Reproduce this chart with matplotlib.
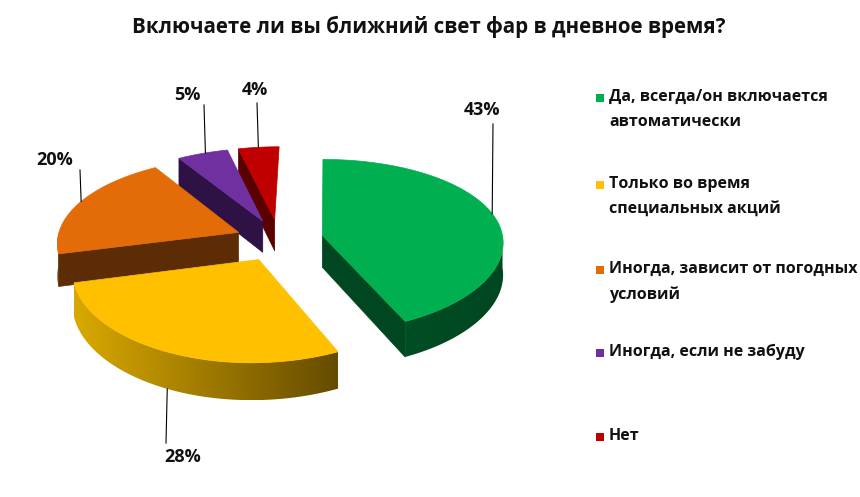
import numpy as np
import matplotlib
matplotlib.use("Agg")
import matplotlib.pyplot as plt
from matplotlib.patches import Polygon, Rectangle
from matplotlib.colors import to_rgb

plt.rcParams['font.family'] = ['Open Sans', 'DejaVu Sans']

title = "Включаете ли вы ближний свет фар в дневное время?"
labels = ["Да, всегда/он включается\nавтоматически",
          "Только во время\nспециальных акций",
          "Иногда, зависит от погодных\nусловий",
          "Иногда, если не забуду",
          "Нет"]
values = [43, 28, 20, 5, 4]
top_colors = ["#00B050", "#FFC000", "#E36C09", "#7030A0", "#C00000"]
side_colors = ["#004620", "#654B00", "#5C2C05", "#2E1145", "#5A0000"]
wall_left = ["#004E24", "#DAA900", "#8A4208", "#3A1658", "#6E0000"]

# geometry of the fake 3d pie (pixels)
CX, CY = 279, 240
RX, RY = 181, 86
K = 0.118       # perspective (vertical)
KX = 0.09       # perspective (horizontal)
VX = 330        # vanishing x
H = 32          # thickness
EXPLODE = 0.245

# label layout: text pos, line start
lab_text = [(482, 110), (183, 457), (55, 160), (187, 95), (255, 90)]
lab_line0 = [(493, 124), (166, 443), (80, 170), (204, 105), (257, 103)]

fig = plt.figure(figsize=(8.6, 4.97), dpi=100)
ax = fig.add_axes([0, 0, 1, 1])
ax.set_xlim(0, 860)
ax.set_ylim(497, 0)
ax.axis("off")


def proj(u, v, z=0.0):
    s = 1.0 / (1.0 + K * v)
    sx = 1.0 / (1.0 + KX * v)
    return VX + (CX + RX * u - VX) * sx, CY - RY * v * s + H * z * s


fr = np.array(values, dtype=float) / sum(values)
starts = np.concatenate([[0], np.cumsum(fr)[:-1]]) * 360
ends = np.cumsum(fr) * 360
mids = (starts + ends) / 2

order = np.argsort(-np.cos(np.radians(mids)))
zo = 1
for i in order:
    a0, a1, am = np.radians(starts[i]), np.radians(ends[i]), np.radians(mids[i])
    ou, ov = EXPLODE * np.sin(am), EXPLODE * np.cos(am)
    th = np.linspace(a0, a1, 200)
    rim_u = ou + np.sin(th)
    rim_v = ov + np.cos(th)

    # radial walls facing the viewer
    for a, sign in [(a0, -1), (a1, 1)]:
        nv = -np.sin(a) * sign
        if nv < 0:
            eu, ev = ou + np.sin(a), ov + np.cos(a)
            pts = [proj(ou, ov, 0), proj(eu, ev, 0), proj(eu, ev, 1), proj(ou, ov, 1)]
            ax.add_patch(Polygon(pts, closed=True, fc=side_colors[i], ec=side_colors[i],
                                 lw=0.5, zorder=zo))

    # curved wall (front half only), shaded left to right
    tf = th[np.cos(th) < 0]
    if len(tf) > 1:
        up = [proj(ou + np.sin(t), ov + np.cos(t), 0) for t in tf]
        dn = [proj(ou + np.sin(t), ov + np.cos(t), 1) for t in tf[::-1]]
        wall = Polygon(up + dn, closed=True, fc="none", ec="none", zorder=zo)
        ax.add_patch(wall)
        xs = [p[0] for p in up + dn]
        ys = [p[1] for p in up + dn]
        c0, c1 = np.array(to_rgb(wall_left[i])), np.array(to_rgb(side_colors[i]))
        g = np.linspace(0, 1, 256)[None, :, None]
        img = c0 + (c1 - c0) * g
        im = ax.imshow(img, extent=(min(xs), max(xs), max(ys), min(ys)),
                       aspect="auto", interpolation="bilinear", zorder=zo)
        im.set_clip_path(wall)

    # top face
    pts = [proj(ou, ov)] + [proj(u, v) for u, v in zip(rim_u, rim_v)]
    ax.add_patch(Polygon(pts, closed=True, fc=top_colors[i], ec=top_colors[i],
                         lw=0.5, zorder=zo + 0.5))
    zo += 1

    # label and vertical leader line to the slice edge
    x0, y0 = lab_line0[i]
    below = np.cos(am) < -0.5
    zl = 1 if below else 0
    near = th[np.abs(th - am) < (a1 - a0) / 2 * 0.9]
    cand = [proj(ou + np.sin(t), ov + np.cos(t), zl) for t in near]
    dmin = min(abs(p[0] - x0) for p in cand)
    cand = [p for p in cand if abs(p[0] - x0) <= dmin + 1.5]
    end = max(cand, key=lambda p: p[1]) if below else min(cand, key=lambda p: p[1])
    ax.plot([x0, end[0]], [y0, end[1]], color="black", lw=0.8, zorder=50)
    ax.text(lab_text[i][0], lab_text[i][1], "%d%%" % values[i], ha="center", va="center",
            fontsize=13, fontweight="bold", color="#111111", zorder=60)

ax.text(429, 27, title, ha="center", va="center", fontsize=14.8, fontweight="bold", color="#111111")

# legend
leg_y = [98, 185, 270, 353, 437]
for i, lab in enumerate(labels):
    ax.add_patch(Rectangle((596, leg_y[i] - 4), 8, 8, fc=top_colors[i], ec="none"))
    ax.text(609, leg_y[i] - 9, lab, ha="left", va="top", fontsize=11.5, fontweight="bold",
            color="#111111", linespacing=1.75)

ax.set_xlim(0, 860)
ax.set_ylim(497, 0)
fig.savefig("out.png", dpi=100)
